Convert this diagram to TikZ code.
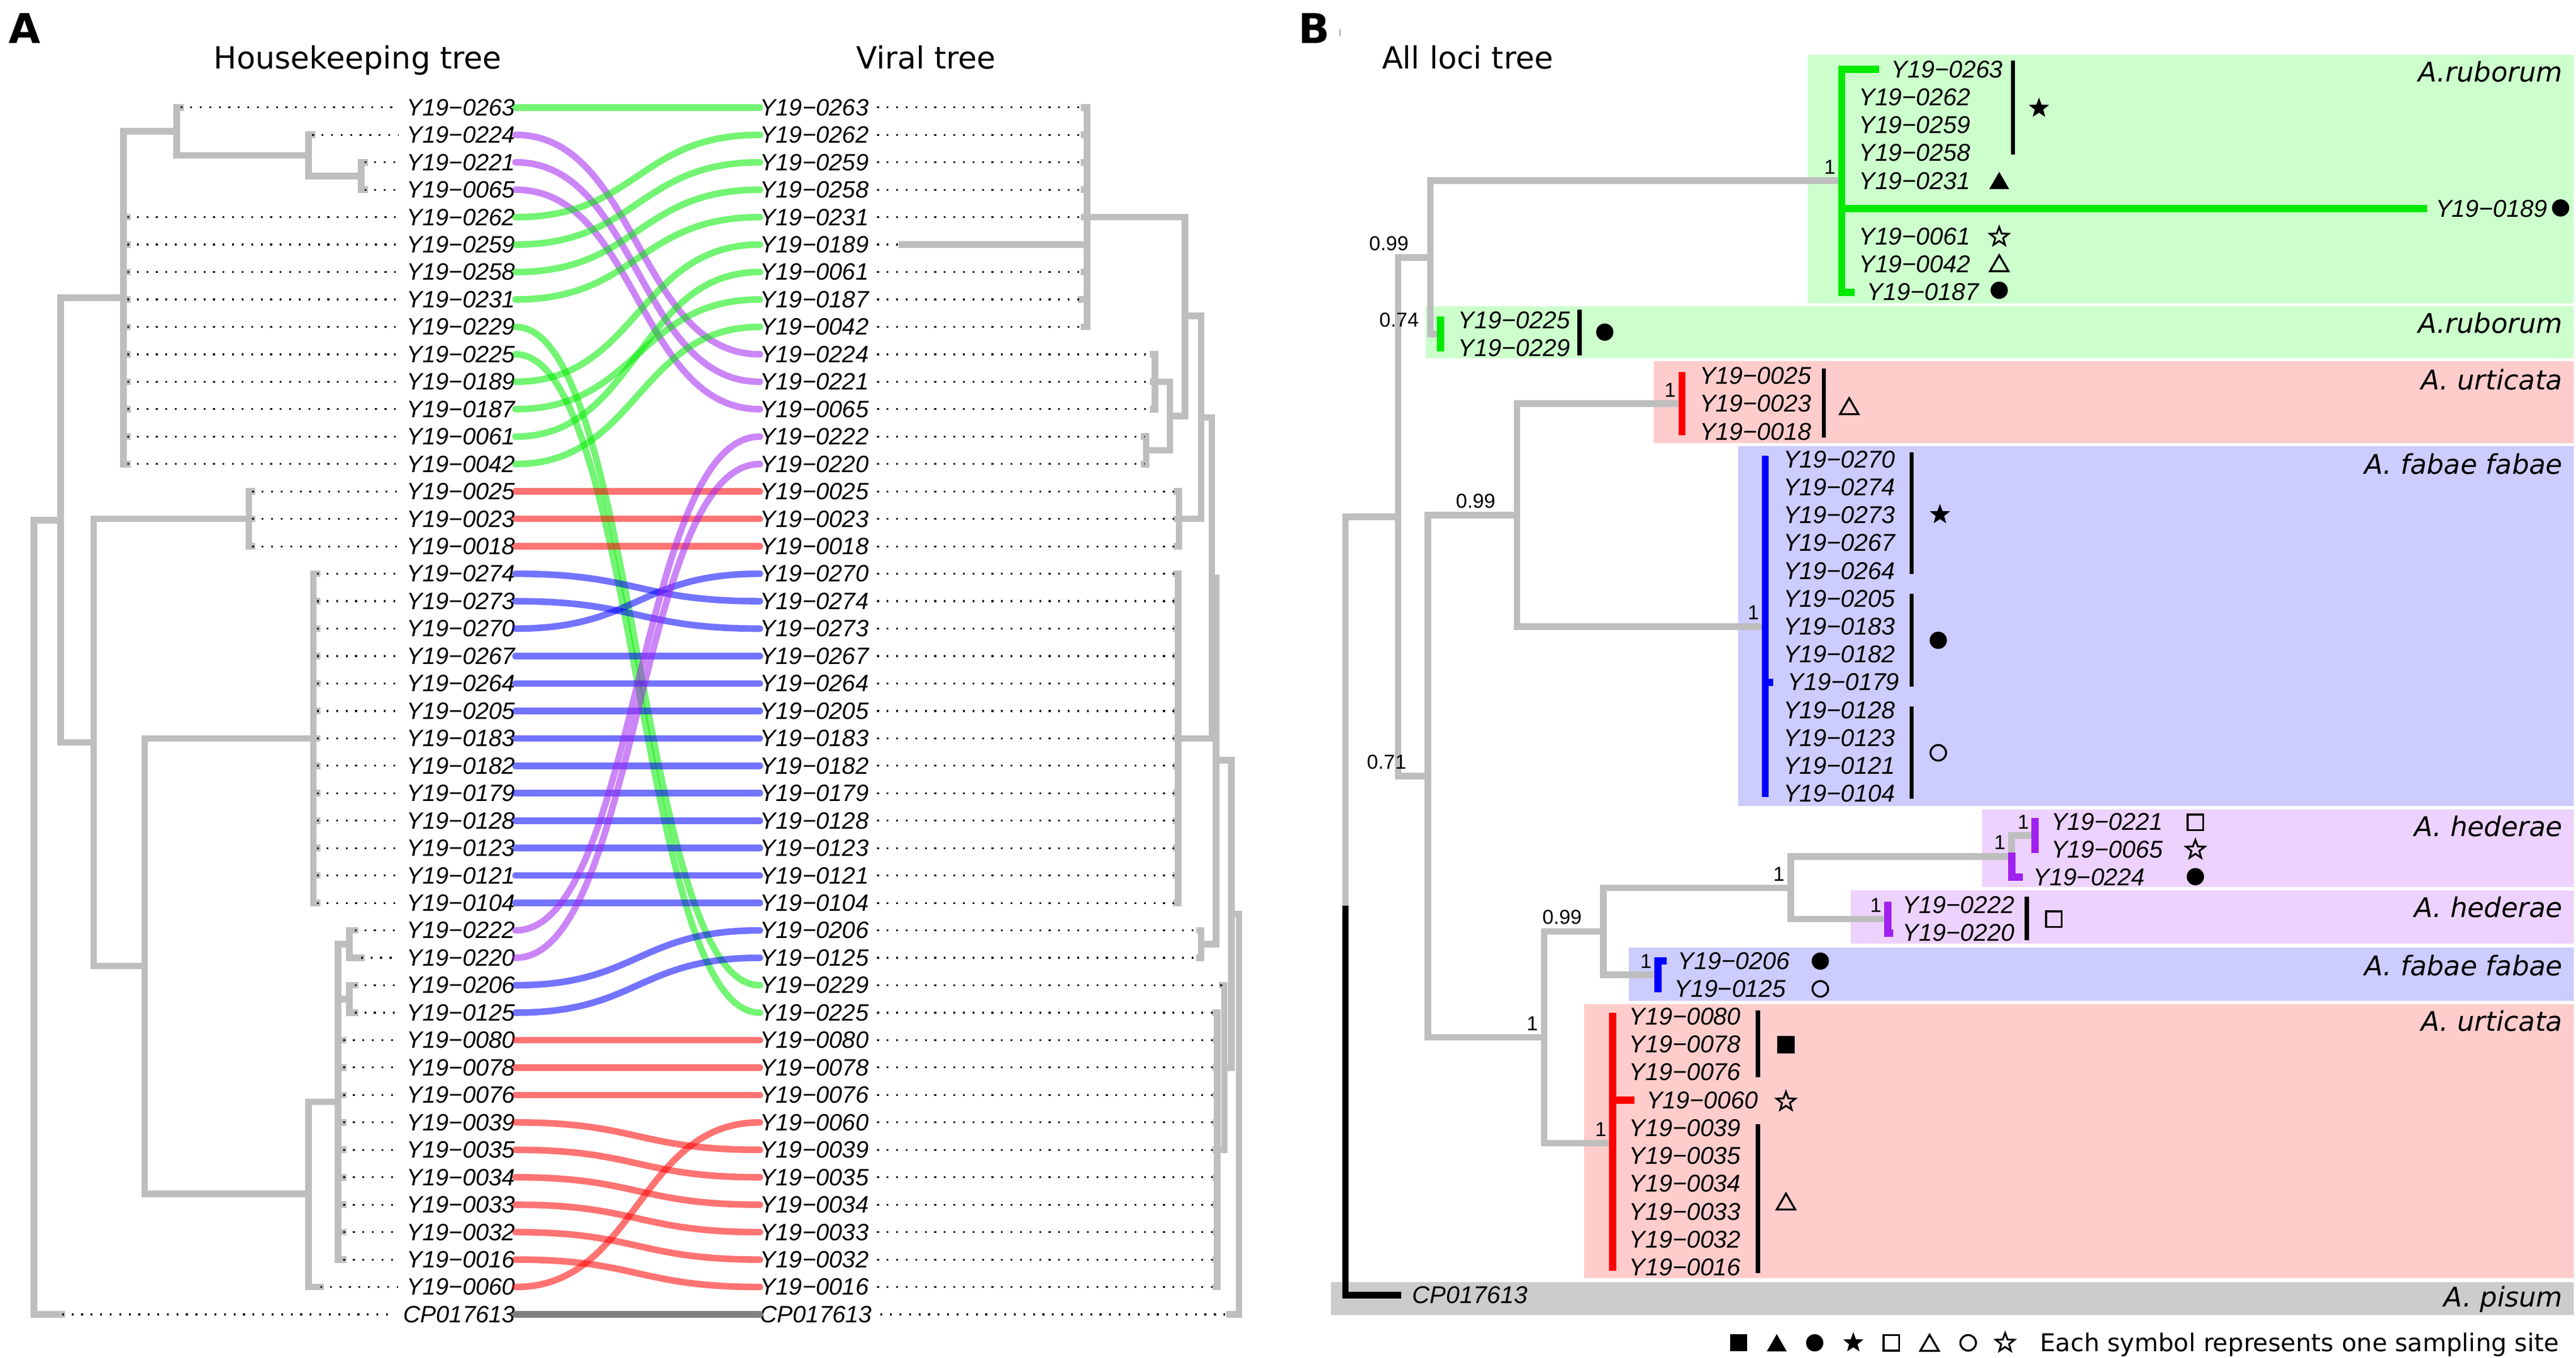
\documentclass[tikz,border=0pt]{standalone}
\usepackage{fontspec}
\setmainfont{DejaVu Sans}
\newfontfamily\tipfont{Liberation Sans}
\usetikzlibrary{shapes.geometric}

\definecolor{brgrey}{RGB}{190,190,190}
\definecolor{hgreen}{RGB}{0,235,0}
\definecolor{hpurple}{RGB}{160,32,240}
\definecolor{hred}{RGB}{255,0,0}
\definecolor{hblue}{RGB}{0,0,255}
\definecolor{lgrey}{RGB}{128,128,128}
\definecolor{boxgreen}{RGB}{204,255,204}
\definecolor{boxred}{RGB}{255,204,204}
\definecolor{boxblue}{RGB}{204,204,255}
\definecolor{boxpurple}{RGB}{236,210,252}
\definecolor{boxgrey}{RGB}{204,204,204}

% row positions of the two panels
\newcommand\rowA[1]{(65.4+16.7*((#1)-1))}
\newcommand\rowB[1]{(42.2+16.96*(#1))}

\tikzset{
  br/.style={draw=brgrey, line width=4pt, line cap=rect},
  dots/.style={line width=1.1pt, dash pattern=on 1.1pt off 4.7pt},
  hklab/.style={font=\fontsize{14.4}{14.4}\tipfont\itshape, inner sep=0pt, anchor=east},
  vrlab/.style={hklab, anchor=west},
  tang/.style={line width=4pt, line cap=round, opacity=0.55},
  tipB/.style={font=\fontsize{14.8}{14.8}\tipfont\itshape, inner sep=0pt, anchor=west},
  cbar/.style={draw=#1, line width=4.4pt, line cap=rect},
  brack/.style={line width=2.6pt},
  supp/.style={font=\fontsize{12.3}{12.3}\tipfont, inner sep=0pt},
  species/.style={font=\fontsize{16.5}{16.5}\selectfont\itshape, inner sep=0pt, anchor=base east},
  title/.style={font=\fontsize{18.6}{18.6}\selectfont, inner sep=0pt, anchor=base west},
  panel/.style={font=\fontsize{25}{25}\selectfont\bfseries, inner sep=0pt, anchor=base west},
  mk/.style={inner sep=0pt, outer sep=0pt},
  sqF/.style={mk, rectangle, fill=black, minimum size=10.5pt},
  sqO/.style={mk, rectangle, draw=black, line width=1.2pt, minimum size=9.5pt},
  cirF/.style={mk, circle, fill=black, minimum size=10.5pt},
  cirO/.style={mk, circle, draw=black, line width=1.2pt, minimum size=9.5pt},
  triF/.style={mk, regular polygon, regular polygon sides=3, fill=black, minimum size=14pt, yshift=-1.7pt},
  triO/.style={mk, regular polygon, regular polygon sides=3, draw=black, line width=1.2pt, minimum size=13pt, yshift=-1.6pt},
  starF/.style={mk, star, star points=5, star point ratio=2.4, fill=black, minimum size=13pt},
  starO/.style={mk, star, star points=5, star point ratio=2.4, draw=black, line width=1.1pt, minimum size=12pt},
}

\begin{document}
\begin{tikzpicture}[x=1pt, y=-1pt]
\useasboundingbox (0,0) rectangle (1568,826.7);

%%%%%%%%%% panel A
\node[panel] (pA) at (5.3,26.4) {A};
\node[title] (tHk) at (130,42) {Housekeeping tree};
\node[title] (tVr) at (521,42) {Viral tree};

% housekeeping tips and labels
\foreach \n/\tx [count=\k] in {0263/110, 0224/190, 0221/222, 0065/222, 0262/77.5, 0259/77.5,
  0258/77.5, 0231/77.5, 0229/77.5, 0225/77.5, 0189/77.5, 0187/77.5, 0061/77.5, 0042/77.5,
  0025/153.5, 0023/153.5, 0018/153.5, 0274/193, 0273/193, 0270/193, 0267/193, 0264/193,
  0205/193, 0183/193, 0182/193, 0179/193, 0128/193, 0123/193, 0121/193, 0104/193,
  0222/216, 0220/219.8, 0206/216, 0125/216, 0080/209, 0078/209, 0076/209, 0039/209,
  0035/209, 0034/209, 0033/209, 0032/209, 0016/209, 0060/195}
{
  \coordinate (hkt\k) at (\tx,{\rowA{\k}});
  \node[hklab] (hk\k) at (313.8,{\rowA{\k}}) {Y19−\n};
}
\coordinate (hkt45) at (37.8,{\rowA{45}});
\node[hklab] (hk45) at (313.8,{\rowA{45}}) {CP017613};

% housekeeping tree
\coordinate (a3) at (219.8,{\rowA{3.5}});
\coordinate (a2) at (187.8,{\rowA{2.75}});
\coordinate (a1) at (107.6,{\rowA{1.875}});
\coordinate (hkT) at (75.2,{\rowA{7.94}});
\coordinate (hkU) at (151.5,{\rowA{16}});
\coordinate (hkB) at (190.7,{\rowA{24}});
\coordinate (hkP) at (212.7,{\rowA{31.5}});
\coordinate (hkQ) at (212.7,{\rowA{33.5}});
\coordinate (n206) at (205.7,{\rowA{37.25}});
\coordinate (n188) at (187.8,{\rowA{40.6}});
\coordinate (n88) at (88,{\rowA{32.3}});
\coordinate (n57) at (57,{\rowA{24.15}});
\coordinate (n37) at (36.9,{\rowA{16.05}});
\coordinate (hkR) at (20.7,{\rowA{30.5}});

\foreach \c in {hkt3,hkt4} \draw[br] (a3) |- (\c);
\foreach \c in {hkt2,a3} \draw[br] (a2) |- (\c);
\foreach \c in {hkt1,a2} \draw[br] (a1) |- (\c);
\draw[br] (hkT) |- (a1);
\foreach \k in {5,...,14} \draw[br] (hkT) |- (hkt\k);
\foreach \k in {15,16,17} \draw[br] (hkU) |- (hkt\k);
\foreach \k in {18,...,30} \draw[br] (hkB) |- (hkt\k);
\foreach \k in {31,32} \draw[br] (hkP) |- (hkt\k);
\foreach \k in {33,34} \draw[br] (hkQ) |- (hkt\k);
\draw[br] (n206) |- (hkP);
\draw[br] (n206) |- (hkQ);
\foreach \k in {35,...,43} \draw[br] (n206) |- (hkt\k);
\foreach \c in {n206,hkt44} \draw[br] (n188) |- (\c);
\foreach \c in {hkB,n188} \draw[br] (n88) |- (\c);
\foreach \c in {hkU,n88} \draw[br] (n57) |- (\c);
\foreach \c in {hkT,n57} \draw[br] (n37) |- (\c);
\foreach \c in {n37,hkt45} \draw[br] (hkR) |- (\c);

\foreach \k in {1,...,45} \draw[dots] (hkt\k) -- ([xshift=-5pt]hk\k.west);

% viral tips and labels
\foreach \n/\tx [count=\k] in {0263/660, 0262/660, 0259/660, 0258/660, 0231/660, 0189/549,
  0061/660, 0187/658, 0042/660, 0224/702, 0221/702, 0065/702, 0222/696.5, 0220/696.5,
  0025/716.5, 0023/716.5, 0018/716.5, 0270/716, 0274/716, 0273/716, 0267/716, 0264/716,
  0205/716, 0183/716, 0182/716, 0179/716, 0128/716, 0123/716, 0121/716, 0104/716,
  0206/730, 0125/730, 0229/744, 0225/740, 0080/740, 0078/740, 0076/740, 0060/740,
  0039/740, 0035/740, 0034/740, 0033/740, 0032/740, 0016/740}
{
  \coordinate (vrt\k) at (\tx,{\rowA{\k}});
  \node[vrlab] (vr\k) at (462.5,{\rowA{\k}}) {Y19−\n};
}
\coordinate (vrt45) at (748.4,{\rowA{45}});
\node[vrlab] (vr45) at (462.5,{\rowA{45}}) {CP017613};

% viral tree
\coordinate (vG) at (661.6,{\rowA{5}});
\coordinate (vH1) at (703.1,{\rowA{11}});
\coordinate (vH2) at (697.7,{\rowA{13.5}});
\coordinate (vH) at (712.2,{\rowA{12.25}});
\coordinate (v1) at (721.2,{\rowA{8.6}});
\coordinate (vU) at (717.6,{\rowA{16}});
\coordinate (v2) at (731.1,{\rowA{12.3}});
\coordinate (vB) at (717.1,{\rowA{24}});
\coordinate (v3) at (737.7,{\rowA{18.15}});
\coordinate (vQ) at (731.1,{\rowA{31.5}});
\coordinate (v4) at (740.2,{\rowA{24.8}});
\coordinate (vX) at (741,{\rowA{39}});
\coordinate (vW) at (745.2,{\rowA{36}});
\coordinate (v5) at (749.6,{\rowA{30.4}});
\coordinate (vR) at (754.2,{\rowA{37.7}});

\foreach \k in {1,...,9} \draw[br] (vG) |- (vrt\k);
\foreach \k in {10,11,12} \draw[br] (vH1) |- (vrt\k);
\foreach \k in {13,14} \draw[br] (vH2) |- (vrt\k);
\foreach \c in {vH1,vH2} \draw[br] (vH) |- (\c);
\foreach \c in {vG,vH} \draw[br] (v1) |- (\c);
\foreach \k in {15,16,17} \draw[br] (vU) |- (vrt\k);
\foreach \c in {v1,vU} \draw[br] (v2) |- (\c);
\foreach \k in {18,...,30} \draw[br] (vB) |- (vrt\k);
\foreach \c in {v2,vB} \draw[br] (v3) |- (\c);
\foreach \k in {31,32} \draw[br] (vQ) |- (vrt\k);
\foreach \c in {v3,vQ} \draw[br] (v4) |- (\c);
\foreach \k in {34,...,44} \draw[br] (vX) |- (vrt\k);
\foreach \c in {vrt33,vX} \draw[br] (vW) |- (\c);
\foreach \c in {v4,vW} \draw[br] (v5) |- (\c);
\foreach \c in {v5,vrt45} \draw[br] (vR) |- (\c);

\foreach \k in {1,...,45} \draw[dots] ([xshift=5pt]vr\k.east) -- (vrt\k);

% links between the two trees
\foreach \l/\r/\c in {1/1/hgreen, 2/10/hpurple, 3/11/hpurple, 4/12/hpurple, 5/2/hgreen,
  6/3/hgreen, 7/4/hgreen, 8/5/hgreen, 9/33/hgreen, 10/34/hgreen, 11/6/hgreen, 12/8/hgreen,
  13/7/hgreen, 14/9/hgreen, 15/15/hred, 16/16/hred, 17/17/hred, 18/19/hblue, 19/20/hblue,
  20/18/hblue, 21/21/hblue, 22/22/hblue, 23/23/hblue, 24/24/hblue, 25/25/hblue,
  26/26/hblue, 27/27/hblue, 28/28/hblue, 29/29/hblue, 30/30/hblue, 31/13/hpurple,
  32/14/hpurple, 33/31/hblue, 34/32/hblue, 35/35/hred, 36/36/hred, 37/37/hred,
  38/39/hred, 39/40/hred, 40/41/hred, 41/42/hred, 42/43/hred, 43/44/hred, 44/38/hred}
  \draw[tang, draw=\c] (hk\l.east) .. controls +(74,0) and +(-74,0) .. (vr\r.west);
\draw[tang, draw=lgrey, opacity=1] (hk45.east) -- (vr45.west);

%%%%%%%%%% panel B
\node[panel] (pB) at (790,26.4) {B};
\draw[black!35, line width=0.6pt] (815.6,17.6) -- (815.6,22);
\node[title] (tAll) at (841,42) {All loci tree};

% species boxes
\fill[boxgreen] (1100.2,33.4) rectangle (1566.5,184.6);
\fill[boxgreen] (867.8,186.3) rectangle (1566.5,218.3);
\fill[boxred] (1006.7,219.8) rectangle (1566.5,269.9);
\fill[boxblue] (1058.1,271.6) rectangle (1566.5,490.8);
\fill[boxpurple] (1206.5,492.9) rectangle (1566.5,539.9);
\fill[boxpurple] (1126.4,542.1) rectangle (1566.5,574.6);
\fill[boxblue] (991.4,576.8) rectangle (1566.5,609.3);
\fill[boxred] (964.2,611.5) rectangle (1566.5,778.3);
\fill[boxgrey] (810.2,780.5) rectangle (1566.5,800.7);

\node[species] (sp1) at (1560,49.8) {A.ruborum};
\node[species] (sp2) at (1560,202.8) {A.ruborum};
\node[species] (sp3) at (1560,237.2) {A. urticata};
\node[species] (sp4) at (1560,288.5) {A. fabae fabae};
\node[species] (sp5) at (1560,509.2) {A. hederae};
\node[species] (sp6) at (1560,558.6) {A. hederae};
\node[species] (sp7) at (1560,593.8) {A. fabae fabae};
\node[species] (sp8) at (1560,627.8) {A. urticata};
\node[species] (sp9) at (1560,795.7) {A. pisum};

% tip labels
\foreach \n/\lx [count=\k from 0] in {0263/1151.1, 0262/1131.3, 0259/1131.3, 0258/1131.3,
  0231/1131.3, 0189/1482.4, 0061/1131.3, 0042/1131.3, 0187/1136.3, 0225/887.5, 0229/887.5,
  0025/1034.4, 0023/1034.4, 0018/1034.4, 0270/1085.4, 0274/1085.4, 0273/1085.4,
  0267/1085.4, 0264/1085.4, 0205/1085.4, 0183/1085.4, 0182/1085.4, 0179/1088,
  0128/1085.4, 0123/1085.4, 0121/1085.4, 0104/1085.4, 0221/1248.4, 0065/1248.4,
  0224/1237.5, 0222/1158, 0220/1158, 0206/1021.2, 0125/1019, 0080/991.5, 0078/991.5,
  0076/991.5, 0060/1002, 0039/991.5, 0035/991.5, 0034/991.5, 0033/991.5, 0032/991.5,
  0016/991.5}
  \node[tipB] (al\k) at (\lx,{\rowB{\k}}) {Y19−\n};
\node[tipB] (al44) at (859.6,{\rowB{44}}) {CP017613};

% all loci tree
\coordinate (g1) at (1121,110);
\coordinate (g2) at (876.8,{\rowB{9.5}});
\coordinate (u1) at (1023.8,{\rowB{12}});
\coordinate (b1) at (1074.5,{\rowB{20}});
\coordinate (p11) at (1238.8,{\rowB{27.5}});
\coordinate (p1) at (1224.5,521.3);
\coordinate (p2) at (1149,{\rowB{30.5}});
\coordinate (b2) at (1009.1,{\rowB{32.5}});
\coordinate (u2) at (981.6,696);
\coordinate (n1090) at (1090,540.5);
\coordinate (n975) at (976,567);
\coordinate (n940) at (939.9,631.5);
\coordinate (n923) at (923.4,313.6);
\coordinate (n869) at (869.2,472.5);
\coordinate (n870) at (870.6,156.7);
\coordinate (n851) at (851,314.6);
\coordinate (rootB) at (819,551.5);

\draw[br] (rootB) |- (n851);
\foreach \c in {n870,n869} \draw[br] (n851) |- (\c);
\foreach \c in {g1,g2} \draw[br] (n870) |- (\c);
\foreach \c in {n923,n940} \draw[br] (n869) |- (\c);
\foreach \c in {u1,b1} \draw[br] (n923) |- (\c);
\foreach \c in {n975,u2} \draw[br] (n940) |- (\c);
\foreach \c in {n1090,b2} \draw[br] (n975) |- (\c);
\foreach \c in {p1,p2} \draw[br] (n1090) |- (\c);
\draw[br] (p1) |- (p11);
\draw[line width=4pt] (rootB) |- ([xshift=-6.6pt]al44.west);

% coloured clades
\draw[cbar=hgreen] ([xshift=-9.6pt]al0.west) -| (g1) |- ([xshift=-9.5pt]al8.west);
\draw[cbar=hgreen] (g1 |- al5.west) -- ([xshift=-7.1pt]al5.west);
\draw[cbar=hgreen] (g2 |- al9.west) -- (g2 |- al10.west);
\draw[cbar=hred] (u1 |- al11.west) -- (u1 |- al13.west);
\draw[cbar=hblue] (b1 |- al14.west) -- (b1 |- al26.west);
\draw[cbar=hblue] (b1 |- al22.west) -- ([xshift=-10.8pt]al22.west);
\draw[cbar=hpurple] (p11 |- al27.west) -- (p11 |- al28.west);
\draw[cbar=hpurple] (p1) |- ([xshift=-8.4pt]al29.west);
\draw[cbar=hpurple] (p2 |- al30.west) |- ([xshift=-7.9pt]al31.west);
\draw[cbar=hblue] ([xshift=-8.8pt]al32.west) -| (b2 |- al33.west);
\draw[cbar=hred] (u2 |- al34.west) -- (u2 |- al43.west);
\draw[cbar=hred] (u2 |- al37.west) -- ([xshift=-9.4pt]al37.west);

% support values
\node[supp] (s1) at ([shift={(-25.2,-8.6)}]n870) {0.99};
\node[supp] (s2) at ([shift={(-25.2,-8.6)}]g2) {0.74};
\node[supp] (s3) at ([shift={(-7.2,-8.3)}]g1) {1};
\node[supp] (s4) at ([shift={(-7.2,-8.3)}]u1) {1};
\node[supp] (s5) at ([shift={(-25.2,-8.6)}]n923) {0.99};
\node[supp] (s6) at ([shift={(-25.2,-8.6)}]n869) {0.71};
\node[supp] (s7) at ([shift={(-7.2,-8.3)}]b1) {1};
\node[supp] (s8) at ([shift={(-7.2,-8.3)}]p11) {1};
\node[supp] (s9) at ([shift={(-7.2,-8.3)}]p1) {1};
\node[supp] (s10) at ([shift={(-7.2,-8.3)}]n1090) {1};
\node[supp] (s11) at ([shift={(-7.2,-8.3)}]p2) {1};
\node[supp] (s12) at ([shift={(-25.2,-8.6)}]n975) {0.99};
\node[supp] (s13) at ([shift={(-7.2,-8.3)}]b2) {1};
\node[supp] (s14) at ([shift={(-7.2,-8.3)}]n940) {1};
\node[supp] (s15) at ([shift={(-7.2,-8.3)}]u2) {1};

% sampling site brackets and symbols
\draw[brack] (1225.3,36.9) -- (1225.3,94);
\draw[brack] (961.4,188.6) -- (961.4,216.5);
\draw[brack] (1110.2,224.2) -- (1110.2,266.4);
\draw[brack] (1163.5,275.5) -- (1163.5,349.3);
\draw[brack] (1163.5,361.6) -- (1163.5,417.9);
\draw[brack] (1163.5,430.2) -- (1163.5,486.4);
\draw[brack] (1233.7,545.8) -- (1233.7,572.4);
\draw[brack] (1070,615.2) -- (1070,655.8);
\draw[brack] (1070,684.3) -- (1070,775);

\node[starF] (m1) at (1241.1,65.9) {};
\node[triF] (m2) at (1216.9,109.9) {};
\node[cirF] (m3) at (1558.6,126.6) {};
\node[starO] (m4) at (1216.9,144.2) {};
\node[triO] (m5) at (1216.9,160.3) {};
\node[cirF] (m6) at (1216.9,176.7) {};
\node[cirF] (m7) at (976.8,202.2) {};
\node[triO] (m8) at (1125.6,247.3) {};
\node[starF] (m9) at (1180.8,313.3) {};
\node[cirF] (m10) at (1179.8,389.8) {};
\node[cirO] (m11) at (1179.8,458.3) {};
\node[sqO] (m12) at (1336.3,500.6) {};
\node[starO] (m13) at (1336.3,517.3) {};
\node[cirF] (m14) at (1336.3,533.7) {};
\node[sqO] (m15) at (1250.1,559.6) {};
\node[cirF] (m16) at (1108,585.1) {};
\node[cirO] (m17) at (1108,602) {};
\node[sqF] (m18) at (1087.1,636) {};
\node[starO] (m19) at (1087.1,670.7) {};
\node[triO] (m20) at (1087.1,731.5) {};

% legend
\node[sqF] (lg1) at (1058.3,817.5) {};
\node[triF] (lg2) at (1081.5,817.5) {};
\node[cirF] (lg3) at (1104.6,817.5) {};
\node[starF] (lg4) at (1128.1,817.5) {};
\node[sqO] (lg5) at (1151.3,817.5) {};
\node[triO] (lg6) at (1174.5,817.5) {};
\node[cirO] (lg7) at (1198,817.5) {};
\node[starO] (lg8) at (1220.5,817.5) {};
\node[font=\fontsize{14.9}{14.9}\selectfont, inner sep=0pt, anchor=base west] (lgtxt)
  at (1241.6,822.9) {Each symbol represents one sampling site};
\end{tikzpicture}
\end{document}
